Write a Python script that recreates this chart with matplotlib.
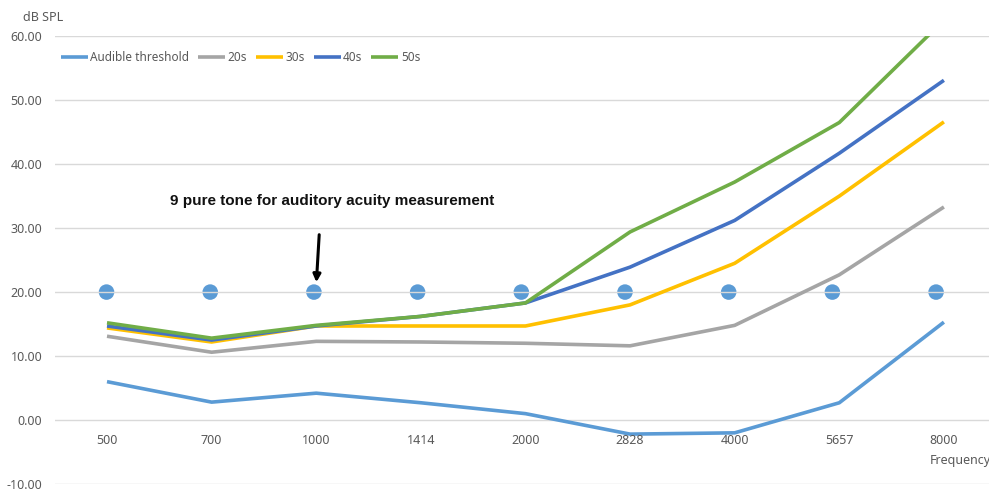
"""
Hearing threshold by age group, drawn as an Excel-style line chart.
"""
import matplotlib.pyplot as plt
import numpy as np

plt.rcParams["font.family"] = ["Noto Sans", "DejaVu Sans"]

FREQS = ["500", "700", "1000", "1414", "2000", "2828", "4000", "5657", "8000"]
AUDIBLE = [6.0, 2.8, 4.2, 2.7, 1.0, -2.2, -2.0, 2.7, 15.3]
AGE_20S = [13.1, 10.6, 12.3, 12.2, 12.0, 11.6, 14.8, 22.7, 33.3]
AGE_30S = [14.4, 12.2, 14.7, 14.7, 14.7, 18.0, 24.5, 35.0, 46.6]
AGE_40S = [14.7, 12.5, 14.7, 16.2, 18.3, 23.9, 31.2, 41.7, 53.1]
AGE_50S = [15.2, 12.8, 14.8, 16.2, 18.3, 29.4, 37.2, 46.5, 62.5]
TONE_LEVEL = [20] * 9

SERIES = [
    ("Audible threshold", AUDIBLE, "#5B9BD5"),
    ("20s", AGE_20S, "#A5A5A5"),
    ("30s", AGE_30S, "#FFC000"),
    ("40s", AGE_40S, "#4472C4"),
    ("50s", AGE_50S, "#70AD47"),
]

TEXT_GRAY = "#595959"
GRID_GRAY = "#D9D9D9"

fig = plt.figure(figsize=(9.89, 4.90), dpi=100)
ax = fig.add_axes([0.0553, 0.0122, 0.952, 0.914])

x = np.arange(len(FREQS))
for label, values, color in SERIES:
    ax.plot(x, values, color=color, lw=2.6, label=label, zorder=3,
            solid_capstyle="butt")

ax.set_xlim(-0.5, len(FREQS) - 0.5)
ax.set_ylim(-10, 60)
ax.set_yticks(np.arange(-10, 61, 10))
ax.set_yticklabels(["%.2f" % v for v in np.arange(-10, 61, 10)])
ax.yaxis.grid(True, color=GRID_GRAY, lw=1.0, zorder=2.5)
for side in ax.spines.values():
    side.set_visible(False)
ax.tick_params(axis="y", length=0, labelsize=9, labelcolor=TEXT_GRAY, pad=9)

# category labels sit just under the zero line, like Excel's crossing axis
ax.set_xticks([])
for i, name in enumerate(FREQS):
    ax.annotate(name, xy=(i, 0), xytext=(0, -15), textcoords="offset points",
                ha="center", va="center", fontsize=9, color=TEXT_GRAY)

# the tone markers are a separate, slightly narrower overlay drawn beneath
ax_dots = ax.twiny()
ax_dots.set_xlim(-0.5, len(FREQS) - 0.5 + 0.08)
ax_dots.set_ylim(-10, 60)
ax_dots.set_axis_off()
ax_dots.scatter(x, TONE_LEVEL, s=125, color="#5B9BD5", edgecolors="none")
ax_dots.set_zorder(ax.get_zorder() - 1)
ax.patch.set_visible(False)

fig.text(0.023, 0.965, "dB SPL", fontsize=9, color=TEXT_GRAY, va="center")
fig.text(0.940, 0.060, "Frequency", fontsize=9, color=TEXT_GRAY, va="center")

ax.text(2.15, 34.3, "9 pure tone for auditory acuity measurement",
        ha="center", va="center", fontsize=11, fontweight="bold",
        family=["Liberation Sans", "DejaVu Sans"], color="#111111")
ax.annotate("", xy=(2.0, 21.1), xytext=(2.03, 29.4),
            arrowprops=dict(arrowstyle="-|>", color="black", lw=2.2,
                            mutation_scale=11))

ax.legend(loc="upper left", bbox_to_anchor=(-0.005, 0.99), ncol=5,
          frameon=False, fontsize=8.5, handlelength=2.3, handletextpad=0.2,
          columnspacing=0.75, labelcolor=TEXT_GRAY)

fig.savefig("out.png", dpi=100)
